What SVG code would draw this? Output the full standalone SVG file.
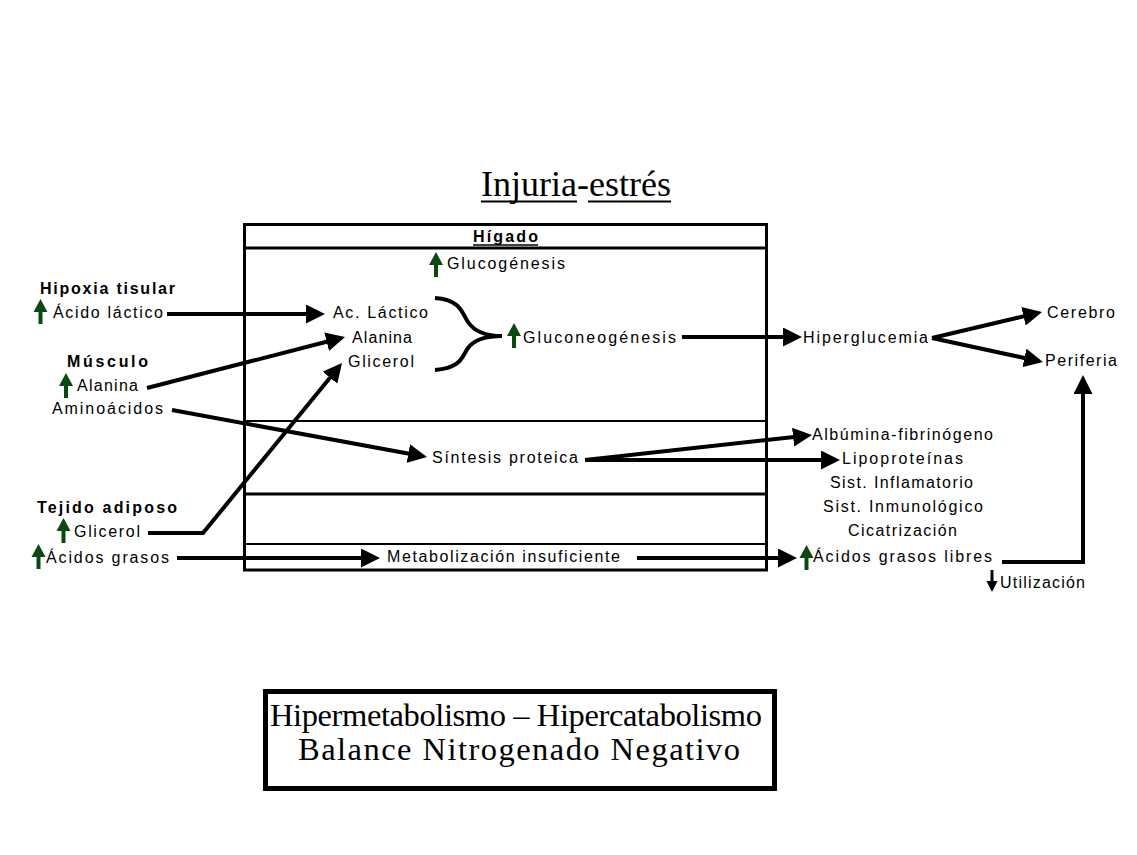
<svg xmlns="http://www.w3.org/2000/svg" xmlns:xlink="http://www.w3.org/1999/xlink" width="1137" height="855" viewBox="0 0 1137 855">
<style>
.t{font-family:"Liberation Sans",Arial,sans-serif;font-size:16px;fill:#000}
.b{font-weight:bold}
.s{font-family:"Liberation Serif","Times New Roman",serif;fill:#000}
.ln{stroke:#000;stroke-width:4;fill:none;marker-end:url(#ah)}
.pl{stroke:#000;stroke-width:4;fill:none}
.bx{stroke:#000;fill:none}
.ul{stroke:#000}
.up{fill:#0a4a10}
.dn{fill:#000}
</style>
<defs>
<marker id="ah" markerUnits="userSpaceOnUse" markerWidth="19" markerHeight="19" viewBox="0 0 19 19" refX="1" refY="9.5" orient="auto">
<path d="M0,0 L19,9.5 L0,19 Z" fill="#000"/>
</marker>
<path id="uparrow" d="M0,0 L7,13 L2,13 L2,25 L-2,25 L-2,13 L-7,13 Z"/>
<path id="downarrow" d="M-1.5,0 L1.5,0 L1.5,11 L5.5,11 L0,22 L-5.5,11 L-1.5,11 Z"/>
</defs>
<rect width="1137" height="855" fill="#fff"/>

<g id="title">
<text class="s" x="481" y="196" font-size="36" textLength="190">Injuria-estrés</text>
<line class="ul" x1="481" y1="201.5" x2="577" y2="201.5" stroke-width="2"/>
<line class="ul" x1="588" y1="201.5" x2="671" y2="201.5" stroke-width="2"/>
</g>

<g id="higado">
<rect class="bx" x="244.5" y="224.5" width="522" height="345.5" stroke-width="3"/>
<line class="bx" x1="244" y1="248" x2="767" y2="248" stroke-width="3"/>
<line class="bx" x1="244" y1="421" x2="767" y2="421" stroke-width="2"/>
<line class="bx" x1="244" y1="494" x2="767" y2="494" stroke-width="3"/>
<line class="bx" x1="244" y1="544" x2="767" y2="544" stroke-width="2"/>
<text class="t b" x="473" y="242" textLength="65">Hígado</text>
<line class="ul" x1="473" y1="245" x2="538" y2="245" stroke-width="1.5"/>
</g>

<g id="glucogenesis">
<use href="#uparrow" class="up" x="436" y="252"/>
<text class="t" x="447" y="269" textLength="118">Glucogénesis</text>
</g>

<g id="hipoxia">
<text class="t b" x="40" y="294" textLength="135">Hipoxia tisular</text>
<use href="#uparrow" class="up" x="40.5" y="299"/>
<text class="t" x="53" y="318" textLength="110">Ácido láctico</text>
</g>

<g id="musculo">
<text class="t b" x="67" y="367" textLength="81">Músculo</text>
<use href="#uparrow" class="up" x="66" y="373"/>
<text class="t" x="77" y="391" textLength="61">Alanina</text>
<text class="t" x="52" y="414" textLength="111">Aminoácidos</text>
</g>

<g id="adiposo">
<text class="t b" x="37" y="513" textLength="140">Tejido adiposo</text>
<use href="#uparrow" class="up" x="63.5" y="518"/>
<text class="t" x="74" y="537" textLength="66">Glicerol</text>
<use href="#uparrow" class="up" x="38.5" y="544"/>
<text class="t" x="46" y="563" textLength="123">Ácidos grasos</text>
</g>

<g id="sustratos">
<text class="t" x="333" y="318" textLength="95">Ac. Láctico</text>
<text class="t" x="352" y="343" textLength="60">Alanina</text>
<text class="t" x="348" y="367" textLength="66">Glicerol</text>
</g>

<g id="gluconeogenesis">
<use href="#uparrow" class="up" x="514" y="323"/>
<text class="t" x="523" y="343" textLength="153">Gluconeogénesis</text>
</g>

<g id="sintesis">
<text class="t" x="432" y="463" textLength="146">Síntesis proteica</text>
</g>

<g id="metabolizacion">
<text class="t" x="387" y="562" textLength="233">Metabolización insuficiente</text>
</g>

<g id="hiperglucemia">
<text class="t" x="803" y="343" textLength="125">Hiperglucemia</text>
</g>

<g id="cerebro">
<text class="t" x="1047" y="318" textLength="68">Cerebro</text>
</g>

<g id="periferia">
<text class="t" x="1045" y="366" textLength="72">Periferia</text>
</g>

<g id="proteinas">
<text class="t" x="812" y="440" textLength="181">Albúmina-fibrinógeno</text>
<text class="t" x="842" y="464" textLength="121">Lipoproteínas</text>
<text class="t" x="830" y="488" textLength="143">Sist. Inflamatorio</text>
<text class="t" x="823" y="512" textLength="160">Sist. Inmunológico</text>
<text class="t" x="848" y="536" textLength="109">Cicatrización</text>
</g>

<g id="agl">
<use href="#uparrow" class="up" x="806.5" y="545"/>
<text class="t" x="813" y="562" textLength="179">Ácidos grasos libres</text>
</g>

<g id="utilizacion">
<use href="#downarrow" class="dn" x="992" y="570"/>
<text class="t" x="1000" y="588" textLength="85">Utilización</text>
</g>

<g id="resultado">
<rect class="bx" x="265.5" y="691.5" width="509" height="97" stroke-width="5"/>
<text class="s" x="516" y="726" font-size="32.5" text-anchor="middle" textLength="492">Hipermetabolismo – Hipercatabolismo</text>
<text class="s" x="519" y="760" font-size="32.5" text-anchor="middle" textLength="442">Balance Nitrogenado Negativo</text>
</g>

<g id="connectors">
<line class="ln" x1="167" y1="314" x2="307" y2="314"/>
<line class="ln" x1="147" y1="388" x2="327.6" y2="341.5"/>
<line class="ln" x1="172" y1="410" x2="409.3" y2="453.7"/>
<polyline class="ln" points="148,533 203,533 330.6,376.9"/>
<line class="ln" x1="177" y1="558" x2="362" y2="558"/>
<line class="ln" x1="637" y1="558" x2="779" y2="558"/>
<line class="ln" x1="682" y1="337" x2="784" y2="337"/>
<line class="ln" x1="932" y1="338" x2="1024.5" y2="316.1"/>
<line class="ln" x1="932" y1="338" x2="1025.4" y2="358.2"/>
<line class="ln" x1="585" y1="460" x2="794.1" y2="437"/>
<line class="ln" x1="585" y1="460" x2="822" y2="460"/>
<polyline class="ln" points="1002,562 1083,562 1083,393"/>
<path class="pl" d="M435,298 C462,300 462,314 468,322 C474,331 486,336 502,336"/>
<path class="pl" d="M435,370 C462,368 462,356 468,348 C474,340 486,336 502,336"/>
</g>
</svg>
